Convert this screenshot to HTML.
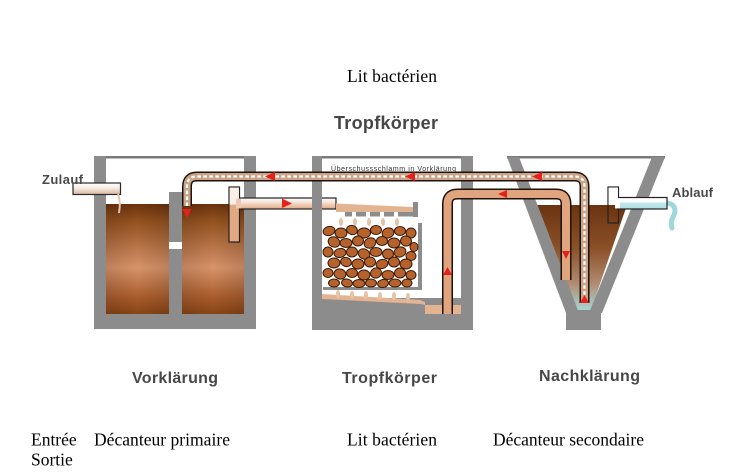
<!DOCTYPE html>
<html><head><meta charset="utf-8"><style>
html,body{margin:0;padding:0;background:#fff;}
svg{display:block;}
</style></head><body>
<svg width="753" height="475" viewBox="0 0 753 475" xmlns="http://www.w3.org/2000/svg">
<defs>
<linearGradient id="brown" x1="0" y1="0" x2="0" y2="1">
<stop offset="0" stop-color="#6b320e"/>
<stop offset="0.15" stop-color="#92501e"/>
<stop offset="0.58" stop-color="#d8936a"/>
<stop offset="0.85" stop-color="#a85c2c"/>
<stop offset="1" stop-color="#884416"/>
</linearGradient>
<linearGradient id="brownH" x1="0" y1="0" x2="1" y2="0">
<stop offset="0" stop-color="#000" stop-opacity="0.12"/>
<stop offset="0.5" stop-color="#000" stop-opacity="0"/>
<stop offset="1" stop-color="#000" stop-opacity="0.12"/>
</linearGradient>
<linearGradient id="vliq" x1="0" y1="0" x2="0" y2="1">
<stop offset="0" stop-color="#6b3410"/>
<stop offset="0.4" stop-color="#8a5028"/>
<stop offset="0.72" stop-color="#b08a70"/>
<stop offset="1" stop-color="#a8dcdc"/>
</linearGradient>
<linearGradient id="pipeW" x1="0" y1="0" x2="0" y2="1">
<stop offset="0" stop-color="#ffffff"/>
<stop offset="0.45" stop-color="#f6ece4"/>
<stop offset="1" stop-color="#d7b49a"/>
</linearGradient>
<linearGradient id="pipeIn" x1="0" y1="0" x2="0" y2="1">
<stop offset="0" stop-color="#ffffff"/>
<stop offset="0.4" stop-color="#f4e2d4"/>
<stop offset="1" stop-color="#e2a882"/>
</linearGradient>
<linearGradient id="pipeOut" x1="0" y1="0" x2="0" y2="1">
<stop offset="0" stop-color="#ffffff"/>
<stop offset="0.35" stop-color="#ffffff"/>
<stop offset="0.5" stop-color="#c4e8ec"/>
<stop offset="1" stop-color="#a8dde2"/>
</linearGradient>
<filter id="soft" x="-5%" y="-20%" width="110%" height="140%"><feGaussianBlur stdDeviation="0.3"/></filter>
</defs>

<!-- top texts -->
<text x="347" y="82" font-family="Liberation Serif, serif" font-size="17.5" fill="#000" textLength="90">Lit bactérien</text>
<text x="334" y="129" font-family="Liberation Sans, sans-serif" font-weight="bold" font-size="18" fill="#464646" textLength="104" filter="url(#soft)">Tropfkörper</text>

<!-- ============ LEFT TANK ============ -->
<rect x="94" y="156" width="162" height="2.5" fill="#7a7a7a"/>
<rect x="94" y="156" width="12" height="173" fill="#8c8c8c"/>
<rect x="244" y="156" width="12" height="173" fill="#8c8c8c"/>
<rect x="94" y="314" width="162" height="15" fill="#8c8c8c"/>
<rect x="106" y="204" width="63" height="110" fill="url(#brown)"/>
<rect x="106" y="204" width="63" height="110" fill="url(#brownH)"/>
<rect x="182" y="204" width="62" height="110" fill="url(#brown)"/>
<rect x="182" y="204" width="62" height="110" fill="url(#brownH)"/>
<rect x="169" y="192" width="13" height="122" fill="#8c8c8c"/>
<rect x="169" y="242" width="13" height="7" fill="#fff"/>

<!-- Zulauf pipe -->
<rect x="73" y="183" width="47.5" height="11.5" fill="url(#pipeW)" stroke="#2a2a2a" stroke-width="1.2"/>
<path d="M118,194 Q121,202 119,213" stroke="#e4c6ac" stroke-width="2" fill="none"/>
<text x="42" y="184" font-family="Liberation Sans, sans-serif" font-weight="bold" font-size="13" fill="#4a4a4a" textLength="41" filter="url(#soft)">Zulauf</text>

<!-- inlet pipe to Tropfkörper -->
<rect x="239" y="198" width="97" height="11" fill="url(#pipeIn)" stroke="#222" stroke-width="1.2"/>
<rect x="229" y="187" width="10.5" height="55" fill="#e2a882" stroke="#222" stroke-width="1.2"/>
<rect x="229.6" y="187.6" width="9.3" height="17" fill="#f8efe8"/>
<rect x="236" y="198.6" width="5" height="9.8" fill="#eccab2"/>
<polygon points="282,198.5 292,203.5 282,208" fill="#e8201a"/>

<!-- ============ MIDDLE TANK ============ -->
<rect x="312" y="156" width="161" height="2.5" fill="#7a7a7a"/>
<rect x="312" y="156" width="10" height="174" fill="#8c8c8c"/>
<rect x="461" y="156" width="12" height="174" fill="#8c8c8c"/>
<rect x="312" y="298" width="161" height="32" fill="#8c8c8c"/>
<polygon points="322,294 420,300 425,302 425,305 420,304 322,299" fill="#e2b492"/>
<rect x="425" y="305" width="36" height="9" fill="#e2b492"/>

<!-- distributor -->
<polygon points="336,203.5 413,207 413,212 336,212" fill="#e2b492"/>
<rect x="345" y="212" width="73" height="4.5" fill="#8c8c8c"/>
<rect x="413" y="202" width="5" height="15" fill="#8c8c8c"/>
<g fill="#fff">
<rect x="352" y="212" width="4" height="5"/><rect x="366" y="212" width="4" height="5"/><rect x="380" y="212" width="4" height="5"/><rect x="394" y="212" width="4" height="5"/>
</g>
<!-- drips under distributor -->
<g fill="#e6c2a6">
<ellipse cx="341" cy="222" rx="2" ry="4"/><ellipse cx="355" cy="222" rx="2" ry="4"/><ellipse cx="369" cy="222" rx="2" ry="4"/><ellipse cx="383" cy="222" rx="2" ry="4"/><ellipse cx="397" cy="222" rx="2" ry="4"/>
</g>
<!-- rock frame -->
<rect x="418" y="223" width="4" height="67" fill="#8c8c8c"/>
<rect x="323" y="287" width="99" height="3" fill="#8c8c8c"/>
<!-- rocks -->
<g fill="#b5622c" stroke="#3a1a08" stroke-width="1">
<ellipse cx="329" cy="231" rx="6" ry="4.5" transform="rotate(-15 329 231)"/>
<ellipse cx="341" cy="233" rx="6" ry="5"/>
<ellipse cx="352" cy="230" rx="5.5" ry="4.5" transform="rotate(20 352 230)"/>
<ellipse cx="364" cy="233" rx="6.5" ry="5"/>
<ellipse cx="376" cy="230" rx="5.5" ry="4.5"/>
<ellipse cx="388" cy="233" rx="6" ry="5" transform="rotate(-20 388 233)"/>
<ellipse cx="400" cy="231" rx="5.5" ry="4.5"/>
<ellipse cx="411" cy="233" rx="5" ry="5"/>
<ellipse cx="334" cy="242" rx="6" ry="5" transform="rotate(25 334 242)"/>
<ellipse cx="346" cy="243" rx="6" ry="4.5"/>
<ellipse cx="358" cy="241" rx="5.5" ry="5"/>
<ellipse cx="370" cy="243" rx="6" ry="5" transform="rotate(-25 370 243)"/>
<ellipse cx="382" cy="241" rx="5.5" ry="4.5"/>
<ellipse cx="394" cy="243" rx="6" ry="5"/>
<ellipse cx="406" cy="241" rx="5.5" ry="5" transform="rotate(15 406 241)"/>
<ellipse cx="414" cy="247" rx="4" ry="4.5"/>
<ellipse cx="328" cy="252" rx="5" ry="5"/>
<ellipse cx="340" cy="253" rx="6" ry="4.5" transform="rotate(-10 340 253)"/>
<ellipse cx="352" cy="252" rx="5.5" ry="5"/>
<ellipse cx="364" cy="254" rx="6" ry="5" transform="rotate(30 364 254)"/>
<ellipse cx="376" cy="252" rx="6" ry="4.5"/>
<ellipse cx="388" cy="254" rx="5.5" ry="5"/>
<ellipse cx="400" cy="252" rx="6" ry="5" transform="rotate(-20 400 252)"/>
<ellipse cx="411" cy="256" rx="5" ry="4.5"/>
<ellipse cx="334" cy="263" rx="6" ry="5"/>
<ellipse cx="346" cy="262" rx="5.5" ry="4.5" transform="rotate(20 346 262)"/>
<ellipse cx="358" cy="264" rx="6" ry="5"/>
<ellipse cx="370" cy="262" rx="5.5" ry="5"/>
<ellipse cx="382" cy="264" rx="6" ry="4.5" transform="rotate(-15 382 264)"/>
<ellipse cx="394" cy="262" rx="5.5" ry="5"/>
<ellipse cx="406" cy="264" rx="6" ry="5"/>
<ellipse cx="328" cy="273" rx="5" ry="4.5"/>
<ellipse cx="340" cy="274" rx="6" ry="5" transform="rotate(15 340 274)"/>
<ellipse cx="352" cy="273" rx="5.5" ry="4.5"/>
<ellipse cx="364" cy="275" rx="6" ry="5"/>
<ellipse cx="376" cy="273" rx="5.5" ry="5" transform="rotate(-25 376 273)"/>
<ellipse cx="388" cy="275" rx="6" ry="4.5"/>
<ellipse cx="400" cy="273" rx="5.5" ry="5"/>
<ellipse cx="411" cy="275" rx="5" ry="4.5"/>
<ellipse cx="334" cy="283" rx="5.5" ry="4" />
<ellipse cx="347" cy="283" rx="5.5" ry="4" transform="rotate(10 347 283)"/>
<ellipse cx="359" cy="283.5" rx="6" ry="4"/>
<ellipse cx="371" cy="283" rx="5.5" ry="4"/>
<ellipse cx="383" cy="283.5" rx="5.5" ry="4" transform="rotate(-10 383 283)"/>
<ellipse cx="395" cy="283" rx="6" ry="4"/>
<ellipse cx="407" cy="283" rx="5" ry="4"/>
</g>
<!-- drips under rocks -->
<g fill="#e6c2a6">
<ellipse cx="338" cy="294" rx="2" ry="4"/><ellipse cx="352" cy="295" rx="2" ry="4"/><ellipse cx="366" cy="295" rx="2" ry="4"/><ellipse cx="380" cy="296" rx="2" ry="4"/><ellipse cx="394" cy="296" rx="2" ry="4"/><ellipse cx="408" cy="297" rx="2" ry="4"/>
</g>

<!-- ============ RIGHT TANK ============ -->
<polygon points="536,205 627,205 590,313 578,313" fill="url(#vliq)"/>
<rect x="507" y="156" width="158" height="2.5" fill="#7a7a7a"/>
<polygon points="507,157 519,157 579,313 566,313" fill="#8c8c8c"/>
<polygon points="652,157 665,157 602,313 589,313" fill="#8c8c8c"/>
<rect x="566" y="310" width="35" height="20" fill="#8c8c8c"/>

<!-- Ablauf -->
<path d="M665,203 C675,203 677,210 673,217 C671,221 671,225 672,228" stroke="#9fd6dc" stroke-width="5" fill="none" stroke-linecap="round"/>
<rect x="618" y="197.5" width="49" height="11.5" fill="url(#pipeOut)" stroke="#222" stroke-width="1.2"/>
<rect x="608" y="187" width="10.5" height="36" fill="none" stroke="#222" stroke-width="1.2"/>
<rect x="608.6" y="187.6" width="9.3" height="17" fill="#fff"/>
<rect x="615" y="198.1" width="5" height="10.3" fill="#fff"/>
<text x="672" y="197" font-family="Liberation Sans, sans-serif" font-weight="bold" font-size="13" fill="#4a4a4a" textLength="41" filter="url(#soft)">Ablauf</text>

<!-- return pipe (Tropfkörper -> Nachklärung) -->
<path d="M447.5,314 L447.5,204 Q447.5,194 457.5,194 L556,194 Q566,194 566,204 L566,280" stroke="#1e1208" stroke-width="11" fill="none"/>
<path d="M447.5,314 L447.5,204 Q447.5,194 457.5,194 L556,194 Q566,194 566,204 L566,280" stroke="#e0a47e" stroke-width="8" fill="none"/>
<polygon points="507,190 498,194 507,198" fill="#e8201a"/>
<polygon points="562,251 570,251 566,259" fill="#e8201a"/>
<polygon points="443,275 452,275 447.5,267" fill="#e8201a"/>

<!-- sludge pipe -->
<path d="M187,206 L187,186.5 Q187,176.5 197,176.5 L574.5,176.5 Q584.5,176.5 584.5,186.5 L584.5,303" stroke="#1e1208" stroke-width="10" fill="none"/>
<path d="M187,206 L187,186.5 Q187,176.5 197,176.5 L574.5,176.5 Q584.5,176.5 584.5,186.5 L584.5,303" stroke="#c9a48a" stroke-width="7" fill="none"/>
<path d="M187,206 L187,186.5 Q187,176.5 197,176.5 L574.5,176.5 Q584.5,176.5 584.5,186.5 L584.5,303" stroke="#fff" stroke-width="2.2" stroke-dasharray="3.5 2.5" fill="none"/>
<polygon points="275,172 265,176.5 275,181" fill="#e8201a"/>
<polygon points="415,172 405,176.5 415,181" fill="#e8201a"/>
<polygon points="542,172 532,176.5 542,181" fill="#e8201a"/>
<polygon points="182.5,209 191.5,209 187,218" fill="#e8201a"/>
<polygon points="580,303 589,303 584.5,295" fill="#e8201a"/>
<text x="331" y="171" font-family="Liberation Sans, sans-serif" font-size="7" fill="#333" textLength="125">Überschussschlamm in Vorklärung</text>

<!-- labels -->
<text x="132" y="383" font-family="Liberation Sans, sans-serif" font-weight="bold" font-size="16" fill="#464646" textLength="86" filter="url(#soft)">Vorklärung</text>
<text x="342" y="383" font-family="Liberation Sans, sans-serif" font-weight="bold" font-size="16" fill="#464646" textLength="95" filter="url(#soft)">Tropfkörper</text>
<text x="539" y="381" font-family="Liberation Sans, sans-serif" font-weight="bold" font-size="16" fill="#464646" textLength="101" filter="url(#soft)">Nachklärung</text>

<text x="31" y="445.5" font-family="Liberation Serif, serif" font-size="17.5" fill="#000">Entrée</text>
<text x="94" y="445.5" font-family="Liberation Serif, serif" font-size="17.5" fill="#000" textLength="136">Décanteur primaire</text>
<text x="347" y="445.5" font-family="Liberation Serif, serif" font-size="17.5" fill="#000" textLength="90">Lit bactérien</text>
<text x="493" y="445.5" font-family="Liberation Serif, serif" font-size="17.5" fill="#000" textLength="151">Décanteur secondaire</text>
<text x="31" y="465.5" font-family="Liberation Serif, serif" font-size="17.5" fill="#000">Sortie</text>
</svg>
</body></html>
